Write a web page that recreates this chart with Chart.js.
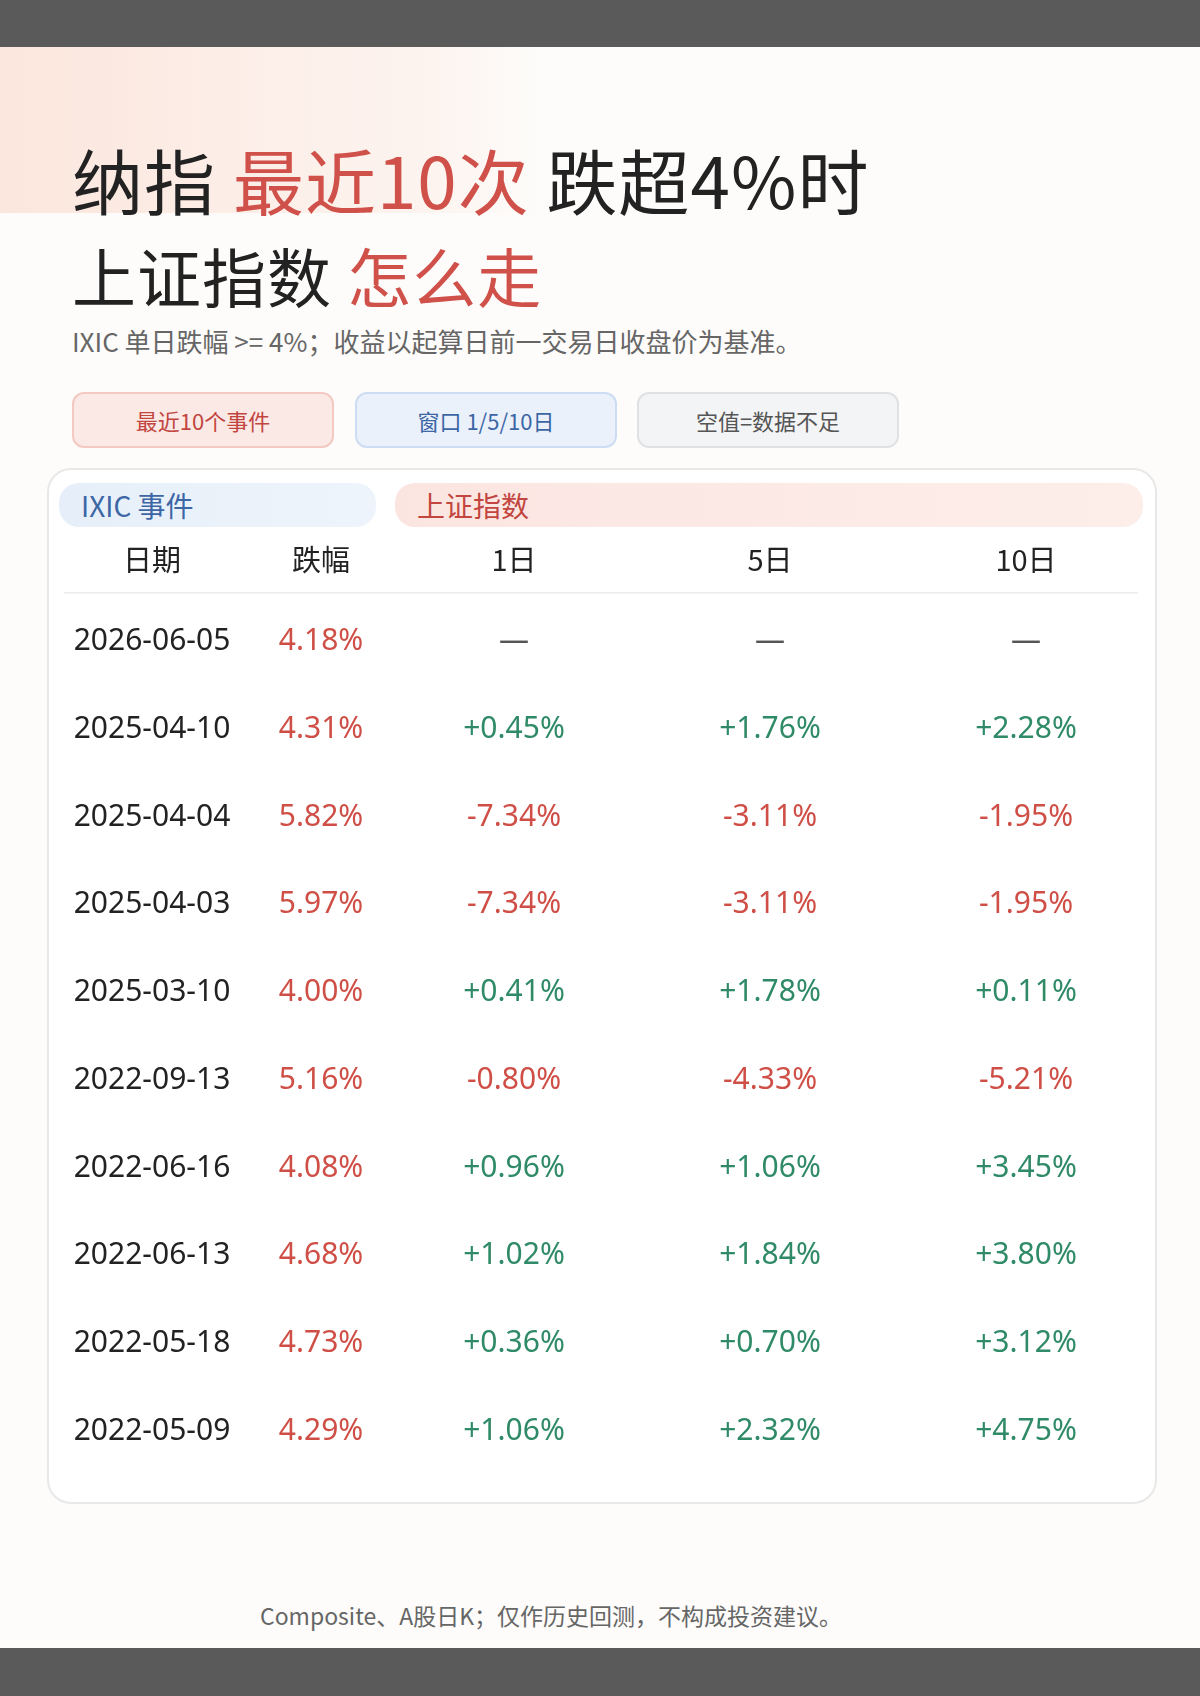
<!DOCTYPE html>
<html><head><meta charset="utf-8">
<script src="https://cdn.jsdelivr.net/npm/chart.js@4.4.1/dist/chart.umd.min.js"></script>
<style>
body{margin:0;width:1200px;height:1696px;background:#fdfcfa;font-family:"Noto Sans CJK SC","Noto Sans",sans-serif;position:relative;overflow:hidden}
.bar{position:absolute;left:0;width:1200px;background:#5a5a5a}
.glow{position:absolute;left:0;top:47px;width:540px;height:166px;background:linear-gradient(90deg,#fbe4da,#fdf3ee 80%,rgba(253,252,250,0));opacity:.9}
.t{position:absolute;left:72px;font-size:71px;font-weight:400;color:#222;letter-spacing:1px}
.r{color:#d0504a}
.sub{position:absolute;left:72px;top:322px;font-size:26px;color:#666}
.badge{position:absolute;top:392px;height:52px;width:258px;border-radius:12px;font-size:22px;display:flex;align-items:center;justify-content:center}
.card{position:absolute;left:47px;top:468px;width:1106px;height:1032px;border:2px solid #e8e8e8;border-radius:24px;background:#fff}
.pill{position:absolute;top:483px;height:44px;border-radius:20px;font-size:28px;display:flex;align-items:center;padding-left:22px;box-sizing:border-box}
#wrap{position:absolute;left:48px;top:468px;width:1106px;height:1033px}
.foot{position:absolute;top:1598px;left:260px;font-size:23px;color:#666}
</style></head><body>
<div class="bar" style="top:0;height:47px"></div>
<div class="bar" style="top:1648px;height:48px"></div>
<div class="glow"></div>
<div class="t" style="top:127px">纳指 <span class="r">最近10次</span> 跌超4%时</div>
<div class="t" style="top:228px;font-size:64px">上证指数 <span class="r">怎么走</span></div>
<div class="sub">IXIC 单日跌幅 &gt;= 4%；收益以起算日前一交易日收盘价为基准。</div>
<div class="badge" style="left:72px;background:#fbe9e6;border:2px solid #f3c9c2;color:#c2463f">最近10个事件</div>
<div class="badge" style="left:355px;background:#eaf1fb;border:2px solid #cddcf2;color:#3d66a5">窗口 1/5/10日</div>
<div class="badge" style="left:637px;background:#f3f4f6;border:2px solid #dfe1e5;color:#555">空值=数据不足</div>
<div class="card"></div>
<div class="pill" style="left:59px;width:317px;background:linear-gradient(90deg,#e6eff9,#eef4fb);color:#3d66a5">IXIC 事件</div>
<div class="pill" style="left:395px;width:748px;background:linear-gradient(90deg,#fbe5e1,#fdeeea);color:#c2463f">上证指数</div>
<div id="wrap"><canvas id="c"></canvas></div>
<div class="foot">Composite、A股日K；仅作历史回测，不构成投资建议。</div>
<script>
const dates=['2026-06-05','2025-04-10','2025-04-04','2025-04-03','2025-03-10','2022-09-13','2022-06-16','2022-06-13','2022-05-18','2022-05-09'];
const drops=[4.18,4.31,5.82,5.97,4.00,5.16,4.08,4.68,4.73,4.29];
const d1=[null,0.45,-7.34,-7.34,0.41,-0.80,0.96,1.02,0.36,1.06];
const d5=[null,1.76,-3.11,-3.11,1.78,-4.33,1.06,1.84,0.70,2.32];
const d10=[null,2.28,-1.95,-1.95,0.11,-5.21,3.45,3.80,3.12,4.75];
const headers=['日期','跌幅','1日','5日','10日'];
const colX=[104,273,466,722,978];
const RED='#cf4f47',GREEN='#2f8a67';
function fmt(v){if(v===null)return '—';return (v>0?'+':'')+v.toFixed(2)+'%';}
const textPlugin={id:'tbl',afterDraw(ch){
 const c=ch.ctx,y=ch.scales.y;c.save();c.textAlign='center';c.textBaseline='middle';
 c.font='29px "Noto Sans CJK SC"';c.fillStyle='#222';
 const hy=y.getPixelForValue(0)-80;
 headers.forEach((h,i)=>c.fillText(h,colX[i],hy));
 c.strokeStyle='#ececec';c.lineWidth=1.5;c.beginPath();c.moveTo(16,hy+33);c.lineTo(1090,hy+33);c.stroke();
 c.font='30px "Noto Sans"';
 dates.forEach((d,i)=>{const py=y.getPixelForValue(i)+2;
  c.fillStyle='#222';c.fillText(d,colX[0],py);
  c.fillStyle=RED;c.fillText(drops[i].toFixed(2)+'%',colX[1],py);
  [d1,d5,d10].forEach((arr,k)=>{const v=arr[i];c.fillStyle=v===null?'#555':(v>=0?GREEN:RED);c.fillText(fmt(v),colX[k+2],py);});
 });c.restore();}};
new Chart(document.getElementById('c'),{type:'bar',
 data:{labels:dates,datasets:[{data:drops.map(()=>0),backgroundColor:'rgba(0,0,0,0)'}]},
 options:{indexAxis:'y',responsive:true,maintainAspectRatio:false,animation:false,
  layout:{padding:{top:128,bottom:28,left:0,right:0}},
  plugins:{legend:{display:false},tooltip:{enabled:false}},
  scales:{x:{display:false},y:{display:false}}},
 plugins:[textPlugin]});
</script></body></html>
